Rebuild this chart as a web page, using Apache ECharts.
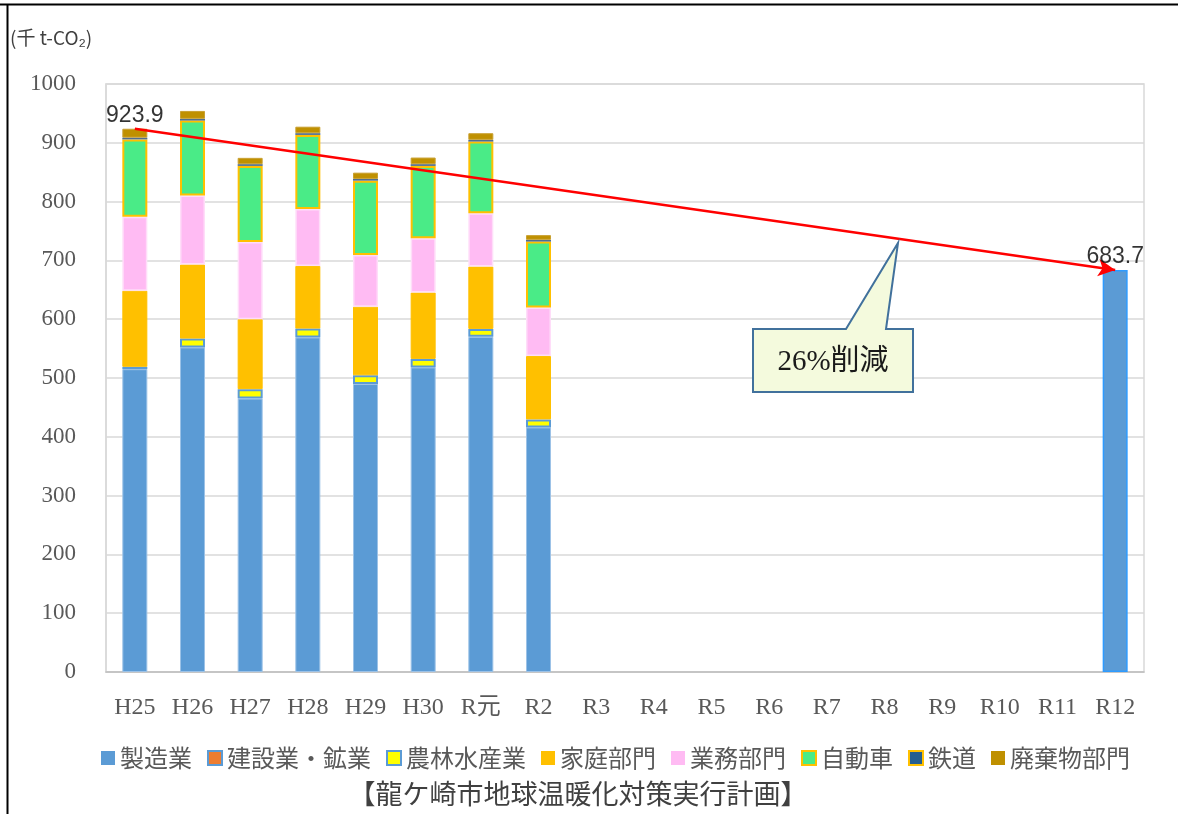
<!DOCTYPE html>
<html><head><meta charset="utf-8">
<script src="https://cdn.jsdelivr.net/npm/echarts@6/dist/echarts.min.js"></script>
<style>html,body{margin:0;padding:0;background:#fff}#c{width:1178px;height:814px}</style>
</head><body><div id="c"></div>
<script>
// ---- data ----
const categories = ['H25','H26','H27','H28','H29','H30','R元','R2','R3','R4','R5','R6','R7','R8','R9','R10','R11','R12'];
const seizo    = [515, 552, 465, 569, 490, 518, 570, 416];
const kensetsu = [0, 0, 0, 0, 0, 0, 0, 0];
const norin    = [4, 15, 16, 15, 14.5, 14.5, 13.5, 13.6];
const katei    = [129.5, 126, 119, 106.6, 116.8, 112.8, 106, 107.7];
const gyomu    = [125.8, 117.3, 131.5, 96.9, 87.9, 92.5, 90.7, 82.8];
const jidosha  = [131.5, 127.5, 129.2, 125.9, 126.4, 122.9, 121.9, 111.9];
const tetsudo  = [3, 3, 3, 3, 3, 3, 3, 3];
const haiki    = [15.1, 13.4, 10.7, 11, 10.6, 11.2, 11.2, 8];
const targetR12 = 683.7;
const baseTotal = 923.9;
const yTicks = [0,100,200,300,400,500,600,700,800,900,1000];
const legendNames = ['製造業','建設業・鉱業','農林水産業','家庭部門','業務部門','自動車','鉄道','廃棄物部門'];
const reductionText = '26%削減';
const unitText = '(千 t-CO₂)';
const captionText = '【龍ケ崎市地球温暖化対策実行計画】';

const pad = arr => categories.map((c,i)=> i < arr.length ? arr[i] : null);
const targetData = categories.map((c,i)=> i === categories.length-1 ? targetR12 : null);
const labelData = categories.map((c,i)=> i === 0 ? baseTotal : (i === categories.length-1 ? targetR12 : null));

const chart = echarts.init(document.getElementById('c'));
const serif = '"Liberation Serif","DejaVu Serif","Noto Sans CJK JP",serif';
const cjk = '"Noto Sans CJK JP","Noto Sans",sans-serif';
const BW = 25;

function barSeries(name, data, color, border, bw){
  return {name, type:'bar', stack:'t', barWidth:BW, data:pad(data),
    itemStyle:{color, borderColor:border||color, borderWidth:bw||0}};
}
const legendStyles = [
  {color:'#5B9BD5', borderWidth:0},
  {color:'#ED7D31', borderColor:'#5B9BD5', borderWidth:2},
  {color:'#FFFF00', borderColor:'#5B9BD5', borderWidth:2},
  {color:'#FFC000', borderWidth:0},
  {color:'#FFBBF3', borderWidth:0},
  {color:'#4AEB87', borderColor:'#FFC000', borderWidth:2},
  {color:'#255E91', borderColor:'#FFC000', borderWidth:2},
  {color:'#BF9000', borderWidth:0}
];

chart.setOption({
  animation:false,
  grid:{left:106, right:34, top:84, bottom:142, show:true, borderColor:'#D9D9D9', borderWidth:1.5},
  legend:{
    left:96, top:741, itemWidth:14, itemHeight:14, itemGap:15, icon:'rect',
    textStyle:{fontFamily:cjk, fontSize:24, color:'#595959'},
    data: legendNames.map((n,i)=>({name:n, icon:'rect', itemStyle:legendStyles[i]}))
  },
  xAxis:{type:'category', data:categories, boundaryGap:true,
    axisLine:{show:true, lineStyle:{color:'#BFBFBF', width:1.5}},
    axisTick:{show:false},
    axisLabel:{fontFamily:serif, fontSize:24, color:'#595959', margin:24}},
  yAxis:{type:'value', min:yTicks[0], max:yTicks[yTicks.length-1], interval:100,
    axisLine:{show:true, lineStyle:{color:'#D9D9D9', width:1.5}},
    axisTick:{show:false},
    axisLabel:{fontFamily:serif, fontSize:23, color:'#595959', margin:30, formatter:v=>String(v)},
    splitLine:{lineStyle:{color:'#D9D9D9', width:1.5}}},
  series:[
    barSeries('製造業', seizo, '#5B9BD5', '#9CC2E7', 1),
    barSeries('建設業・鉱業', kensetsu, '#ED7D31'),
    barSeries('農林水産業', norin, '#FFFF00', '#5B9BD5', 2),
    barSeries('家庭部門', katei, '#FFC000', '#FFC000', 1),
    barSeries('業務部門', gyomu, '#FFBBF3', '#FFDDF9', 1.5),
    barSeries('自動車', jidosha, '#4AEB87', '#FFC000', 2),
    barSeries('鉄道', tetsudo, '#4F6D8F'),
    barSeries('廃棄物部門', haiki, '#BF9000', '#C9A030', 1),
    {name:'目標', type:'bar', stack:'t', barWidth:BW, data:targetData,
      itemStyle:{color:'#5B9BD5', borderColor:'#2E9BFF', borderWidth:1.5}},
    {name:'ラベル', type:'scatter', data:labelData, symbolSize:0, z:10,
      label:{show:true, position:'top', distance:2, fontFamily:'"Liberation Sans",Arial,sans-serif', fontSize:23, color:'#000',
        formatter:p=>p.value==null?'':Number(p.value).toFixed(1)},
      markLine:{silent:true, symbol:['none','arrow'], symbolSize:[13,17], z:9,
        lineStyle:{color:'#FF0000', width:2.5, type:'solid'}, label:{show:false},
        data:[[{coord:[categories[0], baseTotal]},{coord:[categories[categories.length-1], targetR12]}]]}
    }
  ],
  graphic:[
    {type:'line', shape:{x1:0,y1:4.5,x2:1178,y2:4.5}, style:{stroke:'#000', lineWidth:2}},
    {type:'line', shape:{x1:7.5,y1:4,x2:7.5,y2:814}, style:{stroke:'#000', lineWidth:2}},
    {type:'text', left:10, top:28, style:{text:unitText, font:'19px "Noto Sans CJK JP", sans-serif', fill:'#404040'}},
    {type:'polygon', z:20, shape:{points:[[753,329],[846,329],[898,243],[886,329],[913,329],[913,392],[753,392]]},
      style:{fill:'#F4FADD', stroke:'#41719C', lineWidth:2}},
    {type:'text', z:21, x:833, y:362, style:{text:reductionText, font:'29px "Liberation Serif","Noto Sans CJK JP",serif', fill:'#1a1a1a', textAlign:'center', textVerticalAlign:'middle'}},
    {type:'text', x:578, y:794, style:{text:captionText, font:'27px "Noto Sans CJK JP", sans-serif', fill:'#404040', textAlign:'center', textVerticalAlign:'middle'}}
  ]
});
</script></body></html>
